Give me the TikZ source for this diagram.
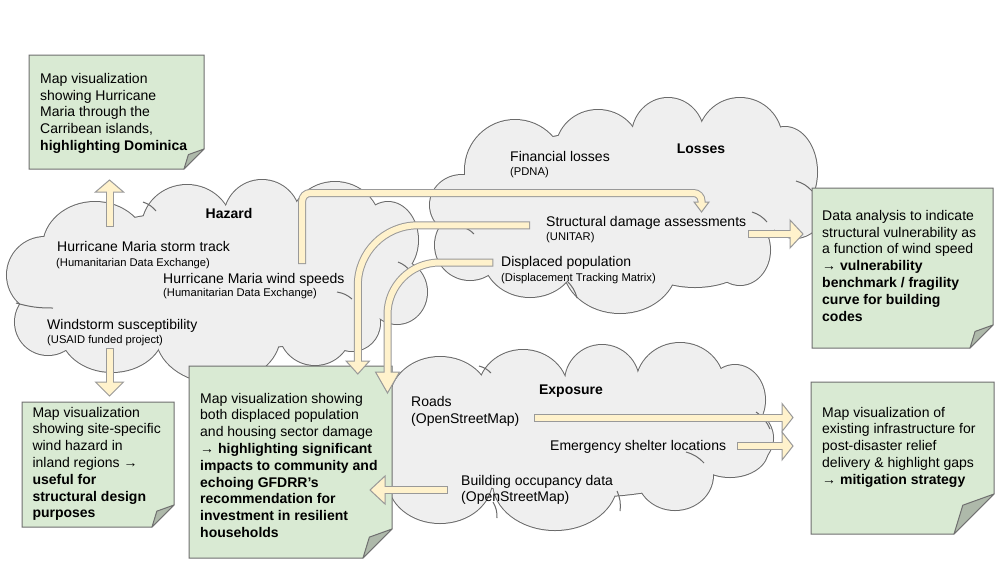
\documentclass[tikz,border=0pt]{standalone}
\usepackage{fontspec}
\setmainfont{Liberation Sans}
\usetikzlibrary{calc}
\definecolor{cloudfill}{HTML}{EFEFEF}
\definecolor{cloudline}{HTML}{6A6A6A}
\definecolor{notefill}{HTML}{D9EAD3}
\definecolor{noteline}{HTML}{6F6F6F}
\definecolor{foldfill}{HTML}{AEB9AA}
\definecolor{arrfill}{HTML}{FFF2CC}
\definecolor{arrline}{HTML}{999999}
\tikzset{
  main/.style={font=\fontsize{14}{16.8}\selectfont, inner sep=0pt, text=black},
  src/.style={font=\fontsize{11.2}{13}\selectfont, inner sep=0pt, text=black},
  ttl/.style={font=\fontsize{14}{16.8}\selectfont\bfseries, inner sep=0pt, text=black},
  notetext/.style={main, align=left, anchor=north west},
  shaftout/.style={draw=arrline, line width=8pt},
  shaftin/.style={draw=arrfill, line width=6pt},
  headsty/.style={fill=arrfill, draw=arrline, line width=1pt, line join=miter},
  cloudarc/.style={draw=cloudline, line width=1pt},
}
\newcommand\cloudpuffs[1]{%
  \foreach \cx/\cy/\rx/\ry in {#1} {\draw[draw=cloudline, line width=2pt, fill=cloudfill] (\cx,\cy) ellipse[x radius=\rx, y radius=\ry];}
  \foreach \cx/\cy/\rx/\ry in {#1} {\fill[cloudfill] (\cx,\cy) ellipse[x radius=\rx, y radius=\ry];}
}
\newcommand\notebox[5]{%
  \fill[notefill] (#1,#2) -- (#3,#2) -- (#3,{#4-#5}) -- ({#3-#5},#4) -- (#1,#4) -- cycle;
  \draw[noteline, line width=1pt] (#1,#2) -- (#3,#2) -- (#3,{#4-#5}) -- ({#3-#5},#4) -- (#1,#4) -- cycle;
  \filldraw[fill=foldfill, draw=noteline, line width=1pt, line join=round] (#3,{#4-#5}) -- ({#3-0.78*#5},{#4-0.72*#5}) -- ({#3-#5},#4) -- cycle;
}
\newcommand\arrowhead[3]{\draw[headsty] (#1) -- ($(#2)!#3!90:(#1)$) -- ($(#2)!#3!-90:(#1)$) -- cycle;}
\begin{document}
\begin{tikzpicture}[x=1pt,y=-1pt]
\useasboundingbox (0,0) rectangle (1000,563);
\fill[white] (0,0) rectangle (1000,563);

% ---------- clouds ----------
\cloudpuffs{45/275/38/38, 95/247/52/45, 187/228/45/43, 262/218/38/38, 335/225/45/43, 388/240/30/38, 397/292/30/32, 352/323/28/28, 315/330/36/35, 218/335/62/48, 112/330/52/42, 48/322/33/33, 220/280/185/70}
\cloudpuffs{462/205/32/30, 515/170/50/50, 598/150/42/40, 668/136/36/38, 740/140/42/42, 785/172/32/45, 795/210/28/28, 740/250/30/35, 695/255/58/32, 620/265/57/48, 530/255/47/42, 470/245/35/35, 625/200/165/70}
\cloudpuffs{410/440/25/45, 440/400/50/43, 523/392/45/42, 602/382/37/37, 680/385/44/42, 735/400/30/35, 745/438/28/28, 730/450/38/27, 675/475/38/35, 555/482/62/48, 440/480/52/43, 580/437/165/60}
% inner arcs of the cloud shapes
\draw[cloudarc] (143,202) to[bend left=15] (156,211);
\draw[cloudarc] (337,292) to[bend left=15] (352,299);
\draw[cloudarc] (16,303) to[bend right=8] (53,308);
\draw[cloudarc] (398,262) to[bend left=15] (410,271);
\draw[cloudarc] (752,212) to[bend left=15] (767,222);
\draw[cloudarc] (796,181) to[bend left=15] (812,191);
\draw[cloudarc] (567,281) to[bend left=15] (577,298);
\draw[cloudarc] (462,227) to[bend left=15] (474,234);
\draw[cloudarc] (479,366) to[bend left=15] (491,373);
\draw[cloudarc] (756,412) to[bend left=15] (770,429);
\draw[cloudarc] (686,452) to[bend left=15] (704,463);
\draw[cloudarc] (617,491) to[bend left=15] (620,511);
\draw[cloudarc] (493,502) to[bend left=15] (497,518);

% ---------- notes ----------
\notebox{29}{55}{204}{169}{20}
\notebox{22}{402}{174}{527}{22}
\notebox{189}{366}{392}{558}{29}
\notebox{812}{188}{993}{348}{23}
\notebox{811}{382}{994}{534}{40}

\node[notetext] (n1) at (40,73) {Map visualization\\showing Hurricane\\Maria through the\\Carribean islands,\\\textbf{highlighting Dominica}};
\node[notetext] (n2) at (32.3,406.7) {Map visualization\\showing site-specific\\wind hazard in\\inland regions →\\\textbf{useful for}\\\textbf{structural design}\\\textbf{purposes}};
\node[notetext] (n3) at (200,392.7) {Map visualization showing\\both displaced population\\and housing sector damage\\→ \textbf{highlighting significant}\\\textbf{impacts to community and}\\\textbf{echoing GFDRR’s}\\\textbf{recommendation for}\\\textbf{investment in resilient}\\\textbf{households}};
\node[notetext] (n4) at (822,210) {Data analysis to indicate\\structural vulnerability as\\a function of wind speed\\→ \textbf{vulnerability}\\\textbf{benchmark / fragility}\\\textbf{curve for building}\\\textbf{codes}};
\node[notetext] (n5) at (822,406.7) {Map visualization of\\existing infrastructure for\\post-disaster relief\\delivery \& highlight gaps\\→ \textbf{mitigation strategy}};

% ---------- cloud texts ----------
\node[ttl, anchor=base] (hazard) at (229,218) {Hazard};
\node[main, anchor=base west] (track) at (57,251.5) {Hurricane Maria storm track};
\node[src, anchor=base west] (tracksrc) at (56,266) {(Humanitarian Data Exchange)};
\node[main, anchor=base west] (wind) at (163,283) {Hurricane Maria wind speeds};
\node[src, anchor=base west] (windsrc) at (163,296.5) {(Humanitarian Data Exchange)};
\node[main, anchor=base west] (storm) at (47,329) {Windstorm susceptibility};
\node[src, anchor=base west] (stormsrc) at (47,343) {(USAID funded project)};

\node[ttl, anchor=base] (losses) at (701,153.3) {Losses};
\node[main, anchor=base west] (fin) at (510,161.7) {Financial losses};
\node[src, anchor=base west] (finsrc) at (510,175.7) {(PDNA)};
\node[main, anchor=base west] (sda) at (546,226.7) {Structural damage assessments};
\node[src, anchor=base west] (sdasrc) at (546,240.5) {(UNITAR)};
\node[main, anchor=base west] (disp) at (501,266.7) {Displaced population};
\node[src, anchor=base west] (dispsrc) at (501,281) {(Displacement Tracking Matrix)};

\node[ttl, anchor=base] (expo) at (571,394) {Exposure};
\node[main, anchor=base west] (roads) at (411,406) {Roads};
\node[main, anchor=base west] (roadsrc) at (411,423) {(OpenStreetMap)};
\node[main, anchor=base west] (shelter) at (550,450) {Emergency shelter locations};
\node[main, anchor=base west] (bocc) at (461,485) {Building occupancy data};
\node[main, anchor=base west] (boccsrc) at (461,501.5) {(OpenStreetMap)};

% ---------- arrows ----------
% Hazard -> top-left note
\coordinate (a1s) at (109.5,227); \coordinate (a1b) at (109.5,192); \coordinate (a1t) at (109.5,180);
\draw[shaftout] (a1s) -- (a1b); \arrowhead{a1t}{a1b}{14pt}; \draw[shaftin, shorten <=1pt, shorten >=-1.5pt] (a1s) -- (a1b);
% Hazard -> bottom-left note
\coordinate (a2s) at (109.5,348); \coordinate (a2b) at (109.5,382); \coordinate (a2t) at (109.5,396);
\draw[shaftout] (a2s) -- (a2b); \arrowhead{a2t}{a2b}{14pt}; \draw[shaftin, shorten <=1pt, shorten >=-1.5pt] (a2s) -- (a2b);
% wind speeds -> structural damage
\coordinate (a3s) at (302.2,264); \coordinate (a3c1) at (302.2,193); \coordinate (a3c2) at (701.5,193);
\coordinate (a3b) at (701.5,202); \coordinate (a3t) at (701.5,212);
\draw[shaftout, rounded corners=8pt] (a3s) -- (a3c1) -- (a3c2) -- (a3b); \arrowhead{a3t}{a3b}{7.5pt};
\draw[shaftin, rounded corners=8pt, shorten <=1pt, shorten >=-1.5pt] (a3s) -- (a3c1) -- (a3c2) -- (a3b);
% structural damage -> middle note
\coordinate (a4s) at (530,225.3); \coordinate (a4c) at (357.8,225.3); \coordinate (a4b) at (357.8,361); \coordinate (a4t) at (357.8,374);
\draw[shaftout, rounded corners=60pt] (a4s) -- (a4c) -- (a4b); \arrowhead{a4t}{a4b}{11.7pt};
\draw[shaftin, rounded corners=60pt, shorten <=1pt, shorten >=-1.5pt] (a4s) -- (a4c) -- (a4b);
% displaced population -> middle note
\coordinate (a5s) at (493.3,262.5); \coordinate (a5c) at (387.5,262.5); \coordinate (a5b) at (387.5,372); \coordinate (a5t) at (387.5,393);
\draw[shaftout, rounded corners=52pt] (a5s) -- (a5c) -- (a5b); \arrowhead{a5t}{a5b}{12pt};
\draw[shaftin, rounded corners=52pt, shorten <=1pt, shorten >=-1.5pt] (a5s) -- (a5c) -- (a5b);
% structural damage -> right top note
\coordinate (a6s) at (748,234); \coordinate (a6b) at (790,234); \coordinate (a6t) at (803,234);
\draw[shaftout] (a6s) -- (a6b); \arrowhead{a6t}{a6b}{14pt}; \draw[shaftin, shorten <=1pt, shorten >=-1.5pt] (a6s) -- (a6b);
% roads -> right bottom note
\coordinate (a7s) at (534,417.5); \coordinate (a7b) at (782,417.5); \coordinate (a7t) at (793,417.5);
\draw[shaftout] (a7s) -- (a7b); \arrowhead{a7t}{a7b}{14pt}; \draw[shaftin, shorten <=1pt, shorten >=-1.5pt] (a7s) -- (a7b);
% shelters -> right bottom note
\coordinate (a8s) at (737,446); \coordinate (a8b) at (782,446); \coordinate (a8t) at (793,446);
\draw[shaftout] (a8s) -- (a8b); \arrowhead{a8t}{a8b}{14pt}; \draw[shaftin, shorten <=1pt, shorten >=-1.5pt] (a8s) -- (a8b);
% building occupancy -> middle note
\coordinate (a9s) at (447.5,490); \coordinate (a9b) at (385,490); \coordinate (a9t) at (370,490);
\draw[shaftout] (a9s) -- (a9b); \arrowhead{a9t}{a9b}{14pt}; \draw[shaftin, shorten <=1pt, shorten >=-1.5pt] (a9s) -- (a9b);
\end{tikzpicture}
\end{document}
